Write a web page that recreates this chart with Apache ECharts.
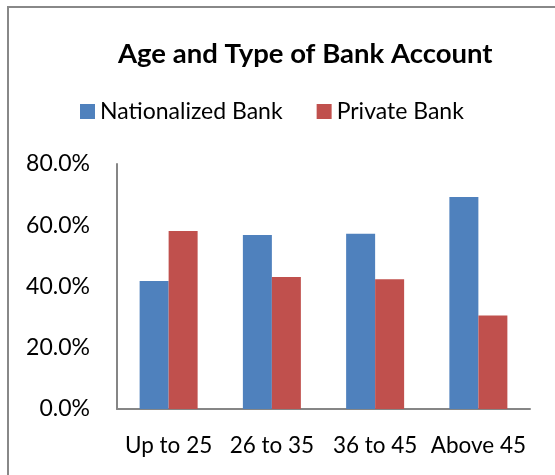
<!DOCTYPE html>
<html>
<head>
<meta charset="utf-8">
<script src="https://cdn.jsdelivr.net/npm/echarts@6/dist/echarts.min.js"></script>
<style>html,body{margin:0;padding:0;background:#fff;}#c{width:555px;height:475px;}</style>
</head>
<body>
<div id="c"></div>
<script>
const categories = ['Up to 25', '26 to 35', '36 to 45', 'Above 45'];
const nationalized = [41.8, 56.8, 57.2, 69.2];
const privateBank = [58.1, 43.1, 42.4, 30.5];
const seriesNames = ['Nationalized Bank', 'Private Bank'];
const yTicks = [0, 20, 40, 60, 80];

const FONT = 'Lato';
const chart = echarts.init(document.getElementById('c'));
chart.setOption({
  animation: false,
  backgroundColor: '#fff',
  textStyle: { fontFamily: FONT },
  graphic: [{
    type: 'rect', shape: { x: 8, y: 7, width: 700, height: 700 },
    style: { fill: 'none', stroke: '#888', lineWidth: 2 }, silent: true
  }],
  title: {
    text: 'Age and Type of Bank Account',
    left: 118, top: 40, padding: 0,
    textStyle: { fontFamily: FONT, fontWeight: 'bold', fontSize: 27.5, color: '#000' }
  },
  legend: {
    left: 80, top: 100, padding: 0,
    itemWidth: 15, itemHeight: 15, itemGap: 34,
    icon: 'rect',
    textStyle: { fontFamily: FONT, fontSize: 23, color: '#000', padding: [0, 0, 0, 0] },
    data: seriesNames
  },
  grid: { left: 117, top: 164, width: 413, height: 245, containLabel: false },
  xAxis: {
    type: 'category', data: categories,
    axisLine: { lineStyle: { color: '#868686', width: 2 } },
    axisTick: { show: false },
    axisLabel: { fontFamily: FONT, fontSize: 22.5, color: '#000', margin: 25, interval: 0 }
  },
  yAxis: {
    type: 'value', min: 0, max: 80, interval: 20,
    axisLine: { show: true, lineStyle: { color: '#868686', width: 2 } },
    axisTick: { show: false },
    splitLine: { show: false },
    axisLabel: {
      fontFamily: FONT, fontSize: 23, color: '#000', margin: 27,
      formatter: v => yTicks.includes(v) ? v.toFixed(1) + '%' : ''
    }
  },
  series: [
    { name: seriesNames[0], type: 'bar', data: nationalized, barWidth: 29, barGap: '0%',
      itemStyle: { color: '#4F81BD' } },
    { name: seriesNames[1], type: 'bar', data: privateBank, barWidth: 29, barGap: '0%',
      itemStyle: { color: '#C0504D' } }
  ]
});
</script>
</body>
</html>
